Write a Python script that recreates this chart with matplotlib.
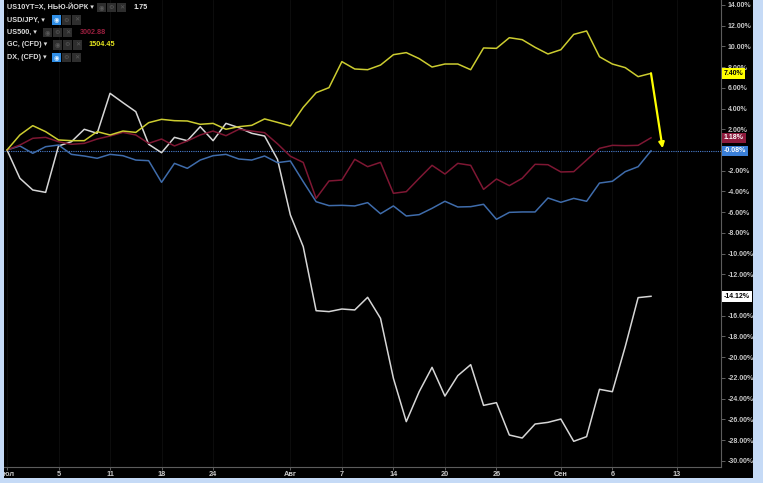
import matplotlib

matplotlib.use("Agg")
import matplotlib.pyplot as plt  # noqa: E402
from matplotlib.patches import Rectangle  # noqa: E402

W, H = 763, 483

# % change since 1 Jul 2019, one value per trading day
us10y = [0, -2.73, -3.86, -4.09, 0.39, 0.8, 2.0, 1.61, 5.47, 4.57, 3.7, 0.55, -0.26,
         1.22, 0.9, 2.25, 0.9, 2.57, 2.16, 1.61, 1.35, -0.9,
         -6.27, -9.33, -15.51, -15.6, -15.35, -15.44, -14.22, -16.25, -22.04, -26.22,
         -23.33, -20.98, -23.75, -21.78, -20.72, -24.65, -24.39, -27.51, -27.8, -26.45,
         -26.29, -25.97, -28.12, -27.67, -23.1, -23.33, -18.98, -14.25, -14.12]
usdjpy = [0, 0.39, -0.32, 0.32, 0.48, -0.42, -0.58, -0.8, -0.42, -0.55, -0.97, -1.03,
          -3.12, -1.29, -1.77, -0.97, -0.55, -0.42, -0.87, -0.97, -0.58, -1.22, -1.06,
          -3.06, -4.99, -5.37, -5.34, -5.4, -5.08, -6.15, -5.4, -6.37, -6.24, -5.63,
          -4.95, -5.5, -5.47, -5.24, -6.69, -6.02, -5.98, -5.98, -4.63, -5.05, -4.67,
          -4.95, -3.19, -3.02, -2.09, -1.61, -0.08]
us500 = [0, 0.48, 1.13, 1.22, 0.8, 0.55, 0.64, 1.06, 1.35, 1.7, 1.45, 0.64, 1.06, 0.39,
         0.87, 1.45, 1.83, 1.38, 2.0, 1.83, 1.67, 0.6, -0.6, -1.2,
         -4.67, -2.99, -2.9, -0.9, -1.61, -1.19, -4.18, -4.02, -2.73, -1.48, -2.32,
         -1.29, -1.48, -3.8, -2.8, -3.44, -2.73, -1.38, -1.42, -2.12, -2.09, -0.97,
         0.16, 0.45, 0.42, 0.45, 1.18]
gold = [0, 1.45, 2.35, 1.77, 0.97, 0.9, 0.9, 1.77, 1.45, 1.83, 1.7, 2.64, 2.96, 2.83,
        2.8, 2.48, 2.57, 2.0, 2.25, 2.38, 3.0, 2.67, 2.32,
        4.12, 5.53, 6.02, 8.53, 7.82, 7.75, 8.2, 9.2, 9.4, 8.82, 8.01, 8.3, 8.3, 7.75,
        9.85, 9.81, 10.84, 10.65, 9.91, 9.27, 9.68, 11.16, 11.49, 9.0, 8.3, 7.95, 7.08,
        7.40]

xtick_pos = [0, 4, 8, 12, 16, 22, 26, 30, 34, 38, 43, 47, 52]
xtick_labels = ["Июл", "5", "11", "18", "24", "Авг", "7", "14", "20", "26", "Сен", "6", "13"]
yticks = list(range(14, -31, -2))
# these two ticks sit under the last-value boxes
hidden_yticks = [0, -14]

legend_names = ["US10YT=X, НЬЮ-ЙОРК", "USD/JPY,", "US500,", "GC, (CFD)", "DX, (CFD)"]
legend_values = ["1.75", "", "3002.88", "1504.45", ""]

plt.rcParams["font.family"] = ["Liberation Sans", "DejaVu Sans"]

BG = "#c5daf6"
TXT = "#c8c8c8"
C_WHITE = "#d6d6d6"
C_BLUE = "#3f6cab"
C_RED = "#7e1733"
C_GOLD = "#cccc30"


def fx(px):
    return px / W


def fy(py):
    return 1 - py / H


fig = plt.figure(figsize=(W / 100, H / 100), dpi=100, facecolor=BG)
fig.add_artist(Rectangle((fx(4), fy(478)), fx(753 - 4), 478 / H,
                         transform=fig.transFigure, facecolor="black", edgecolor="none", zorder=-5))

ax = fig.add_axes([fx(4), fy(467), fx(721 - 4), 467 / H])
ax.set_facecolor("black")

x = list(range(len(gold)))
ax.plot(x, us10y, color=C_WHITE, lw=1.1, zorder=3)
ax.plot(x, usdjpy, color=C_BLUE, lw=1.1, zorder=3)
ax.plot(x, us500, color=C_RED, lw=1.1, zorder=3)
ax.plot(x, gold, color=C_GOLD, lw=1.1, zorder=4)
ax.axhline(usdjpy[-1], color="#4a7fd0", lw=0.8, ls=(0, (1, 1)), zorder=2)

# yellow arrow drawn on the chart
last = len(gold) - 1
ax.annotate("", xy=(last + 0.9, usdjpy[-1] + 0.25), xytext=(last, gold[-1]),
            arrowprops=dict(arrowstyle="-|>", color="#ffff00", lw=1.6, mutation_scale=8,
                            shrinkA=0, shrinkB=0), zorder=6)

# px -> index: x = 7 + 12.88 i ; px -> value: v = (150 - y) / 10.36
ax.set_xlim((4 - 7) / 12.88, (721 - 7) / 12.88)
ax.set_ylim((150 - 467) / 10.36, 150 / 10.36)

ax.set_xticks(xtick_pos)
ax.set_xticklabels(xtick_labels)
ax.set_yticks(yticks)
ax.set_yticklabels(["" if v in hidden_yticks else f"{v:.2f}%" for v in yticks])
ax.yaxis.tick_right()
ax.tick_params(axis="y", colors="#707070", labelcolor=TXT, labelsize=5, length=3, pad=2, width=0.6)
ax.tick_params(axis="x", colors="#707070", labelcolor=TXT, labelsize=5.3, length=2, pad=1, width=0.6)
for lbl in ax.get_xticklabels() + ax.get_yticklabels():
    lbl.set_fontweight("bold")
ax.grid(axis="x", color="#0f0f0f", lw=0.6)
for side in ("top", "left"):
    ax.spines[side].set_visible(False)
for side in ("right", "bottom"):
    ax.spines[side].set_color("#5c5c5c")
    ax.spines[side].set_linewidth(0.8)

# last value boxes on the price axis
for val, fc, tc in [(gold[-1], "#ffff00", "black"), (us500[-1], "#8c1a3c", "white"),
                    (usdjpy[-1], "#3a7fd8", "white"), (us10y[-1], "white", "black")]:
    ax.annotate(f"{val:.2f}%", xy=(1, val), xycoords=("axes fraction", "data"),
                xytext=(3, 0), textcoords="offset pixels", ha="left", va="center",
                fontsize=5, fontweight="bold", color=tc, annotation_clip=False,
                bbox=dict(boxstyle="square,pad=0.25", fc=fc, ec="none"), zorder=7)

# legend block top-left
rows_y = [7.5, 20, 32.5, 45, 57.5]
icons_x = [97, 52, 43, 53, 52]
values_x = [133, 0, 80, 88, 0]
values_c = ["#e8e8e8", "", "#9a1f3f", "#e6e620", ""]
blue_first = [False, True, False, False, True]
for name, val, yc, ix, vx, vc, bf in zip(legend_names, legend_values, rows_y, icons_x,
                                          values_x, values_c, blue_first):
    fig.text(fx(7), fy(yc), name + " \u25be", ha="left", va="center", fontsize=5.2,
             fontweight="bold", color="#dcdcdc")
    for k, glyph in enumerate(["\u25c9", "\u2699", "\u2715"]):
        fc = "#2f8ee6" if (k == 0 and bf) else "#2e2e2e"
        gc = "#e8f4ff" if (k == 0 and bf) else "#5a5a5a"
        fig.add_artist(Rectangle((fx(ix + 10 * k), fy(yc + 4.5)), fx(9), 9 / H,
                                 transform=fig.transFigure, facecolor=fc, edgecolor="none"))
        fig.text(fx(ix + 10 * k + 4.5), fy(yc), glyph, ha="center", va="center",
                 fontsize=4.5, color=gc, family="DejaVu Sans")
    if val:
        fig.text(fx(vx), fy(yc), val, ha="left", va="center", fontsize=5.2,
                 fontweight="bold", color=vc)

# light border strip on the left hides the cut part of the first date label
fig.add_artist(Rectangle((0, 0), fx(4), 1, transform=fig.transFigure,
                         facecolor=BG, edgecolor="none", zorder=10))

fig.savefig("out.png", dpi=100, facecolor=BG)
